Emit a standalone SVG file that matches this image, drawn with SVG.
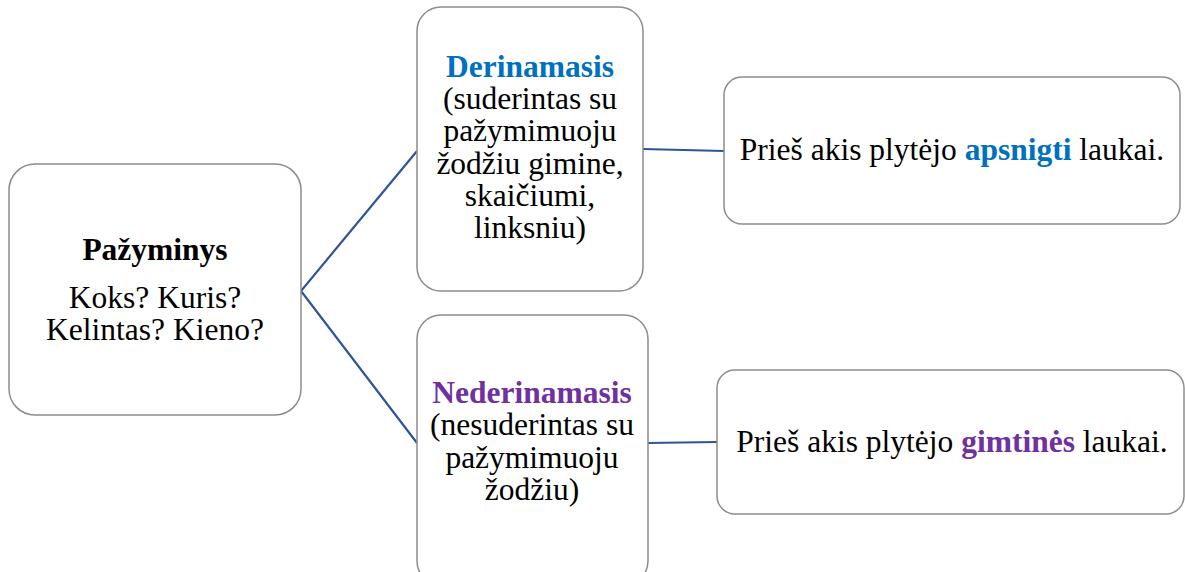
<svg xmlns="http://www.w3.org/2000/svg" width="1185" height="572" viewBox="0 0 1185 572">
<style>
.box{fill:#ffffff;stroke:#8c8c8c;stroke-width:1.5}
text{font-family:'Liberation Serif',serif;font-size:31.5px;fill:#000000;text-anchor:middle}
.b{font-weight:bold}
.blue{fill:#0070C0;font-weight:bold}
.purple{fill:#7030A0;font-weight:bold}
.conn{stroke:#2F5597;stroke-width:2.2;fill:none}
</style>
<rect width="1185" height="572" fill="#ffffff"/>
<g id="connectors">
<polyline class="conn" points="417,151 301,291 417,443"/>
<line class="conn" x1="643" y1="149" x2="724" y2="151"/>
<line class="conn" x1="648" y1="443" x2="717" y2="442"/>
</g>
<g id="node-pazyminys" font-family="Liberation Serif, serif">
<rect class="box" x="9" y="164" width="292" height="251" rx="26"/>
<text class="b" x="155" y="260">Pažyminys</text>
<text x="155" y="308">Koks? Kuris?</text>
<text x="155" y="340">Kelintas? Kieno?</text>
</g>
<g id="node-derinamasis">
<rect class="box" x="417" y="7" width="226" height="284" rx="24"/>
<text class="blue" x="530" y="77">Derinamasis</text>
<text x="530" y="109">(suderintas su</text>
<text x="530" y="141">pažymimuoju</text>
<text x="530" y="174">žodžiu gimine,</text>
<text x="530" y="206">skaičiumi,</text>
<text x="530" y="238">linksniu)</text>
</g>
<g id="node-nederinamasis">
<rect class="box" x="417" y="315" width="231" height="270" rx="24"/>
<text class="purple" x="532" y="403">Nederinamasis</text>
<text x="532" y="435">(nesuderintas su</text>
<text x="532" y="468">pažymimuoju</text>
<text x="532" y="500">žodžiu)</text>
</g>
<g id="node-example1">
<rect class="box" x="724" y="77" width="456" height="147" rx="18"/>
<text x="952" y="160">Prieš akis plytėjo <tspan class="blue">apsnigti</tspan> laukai.</text>
</g>
<g id="node-example2">
<rect class="box" x="717" y="370" width="467" height="144" rx="18"/>
<text x="952" y="452">Prieš akis plytėjo <tspan class="purple">gimtinės</tspan> laukai.</text>
</g>
</svg>
